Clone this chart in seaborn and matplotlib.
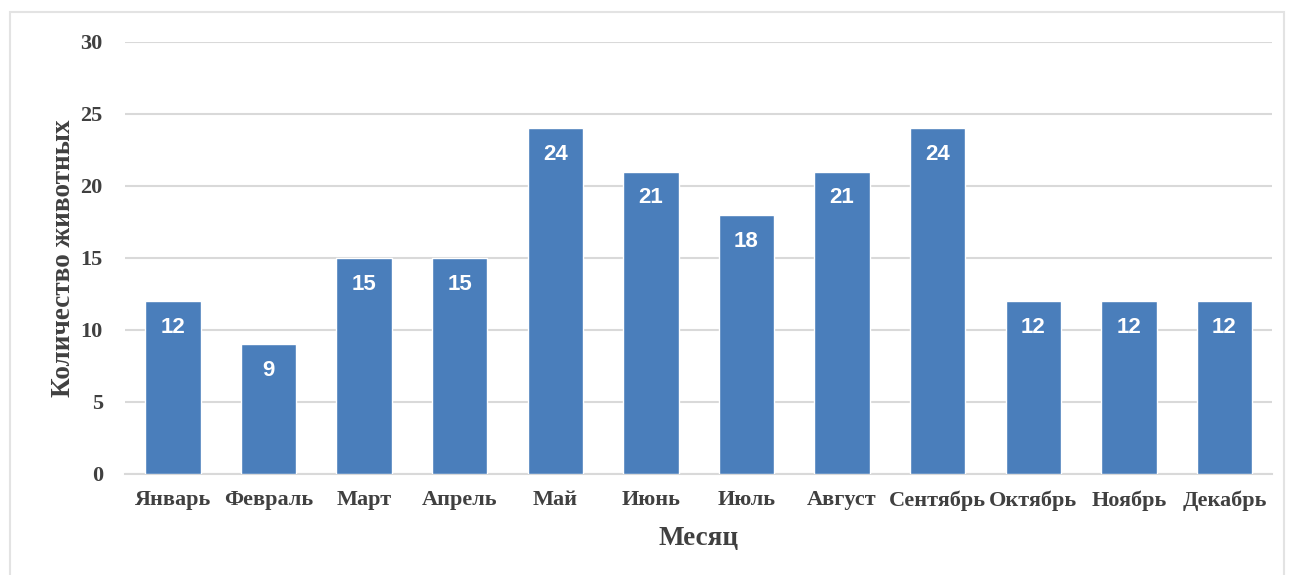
import matplotlib
matplotlib.use("Agg")
import matplotlib.pyplot as plt
import matplotlib.patches as mpatches
import seaborn as sns
import pandas as pd

months = ["Январь", "Февраль", "Март", "Апрель", "Май", "Июнь",
          "Июль", "Август", "Сентябрь", "Октябрь", "Ноябрь", "Декабрь"]
counts = [12, 9, 15, 15, 24, 21, 18, 21, 24, 12, 12, 12]
y_ticks = [0, 5, 10, 15, 20, 25, 30]

sns.set_theme(style="white")
plt.rcParams["font.family"] = ["Liberation Serif", "DejaVu Serif"]

df = pd.DataFrame({"Месяц": months, "Количество": counts})

fig = plt.figure(figsize=(12.89, 5.75), dpi=100)
ax = fig.add_axes([0.097, 0.176, 0.890, 0.751])

sns.barplot(data=df, x="Месяц", y="Количество", color="#4a7ebb",
            saturation=1, width=0.58, ax=ax, zorder=3)

ax.set_ylim(0, 30)
ax.set_xlim(-0.5, len(months) - 0.5)
ax.set_yticks(y_ticks)
ax.yaxis.grid(True, color="#d9d9d9", linewidth=1.5, zorder=0)
ax.set_axisbelow(True)
for s in ["top", "right", "left"]:
    ax.spines[s].set_visible(False)
ax.spines["bottom"].set_color("#d9d9d9")
ax.spines["bottom"].set_linewidth(1.5)
ax.tick_params(axis="both", length=0, labelsize=16, labelcolor="#404040")
ax.tick_params(axis="x", pad=12)
ax.tick_params(axis="y", pad=16)
for lab in ax.get_xticklabels() + ax.get_yticklabels():
    lab.set_fontweight("bold")

ax.set_xlabel("Месяц", fontsize=19.5, fontweight="bold", color="#404040", labelpad=11)
ax.set_ylabel("Количество животных", fontsize=19.5, fontweight="bold",
              color="#404040", labelpad=3)

for i, v in enumerate(counts):
    ax.annotate(str(v), xy=(i, v), xytext=(0, -19), textcoords="offset points",
                ha="center", va="center", color="white", fontsize=16,
                fontweight="bold", family=["Liberation Sans", "DejaVu Sans"])

# light frame around the whole chart
fig.patches.append(mpatches.Rectangle((0.008, -0.01), 0.988, 0.99,
                                      transform=fig.transFigure, fill=False,
                                      edgecolor="#e3e3e3", linewidth=1.5))

fig.savefig("out.png", dpi=100)
